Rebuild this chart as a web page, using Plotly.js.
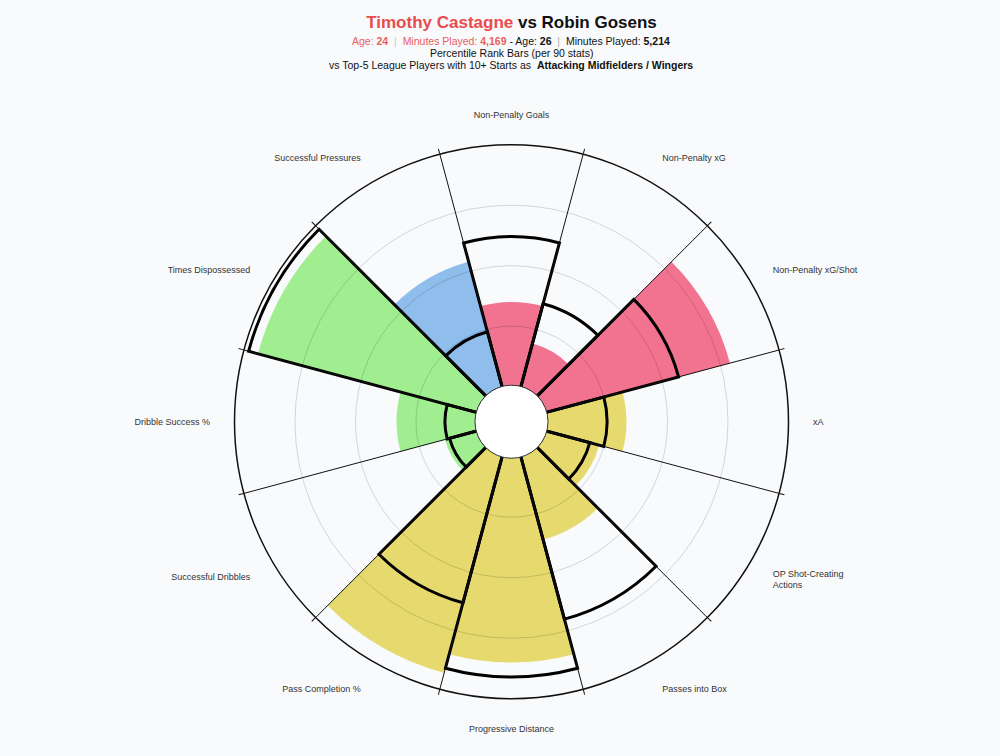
<!DOCTYPE html>
<html>
<head>
<meta charset="utf-8">
<script src="https://cdn.plot.ly/plotly-3.0.1.min.js"></script>
<style>html,body{margin:0;padding:0;background:#f9fafc;}</style>
</head>
<body>
<div id="chart" style="width:1000px;height:756px;"></div>
<script>
// ---- data ----
const categories = [
  "Non-Penalty Goals", "Non-Penalty xG", "Non-Penalty xG/Shot", "xA",
  "OP Shot-Creating<br>Actions", "Passes into Box", "Progressive Distance",
  "Pass Completion %", "Successful Dribbles", "Dribble Success %",
  "Times Dispossessed", "Successful Pressures"
];
const castagne = [35, 19, 79, 33, 23, 36, 85, 93, 14, 33, 94, 54];
const gosens   = [62, 36, 57, 25, 19, 70, 91, 63, 12, 13, 98, 24];
const groups   = ["att","att","att","pass","pass","pass","pass","pass","poss","poss","poss","def"];
const gridValues = [25, 50, 75];

// ---- style ----
const groupColor = {att: "#f2738f", pass: "#e6d96e", poss: "#a0ee90", def: "#8fbdec"};
const FONT = "Liberation Sans, Arial, Helvetica, sans-serif";
const cx = 0.5115, cyPx = 421.7, R = 277, W = 1000, H = 756;
const dom = {
  x: [cx - R / W, cx + R / W],
  y: [(H - cyPx - R) / H, (H - cyPx + R) / H]
};
const rMin = -14.5;        // inner hole radius in value units
const holeTop = 0.6;

const n = categories.length;
const boundaries = categories.map((c, i) => (i + 0.5) * 360 / n);

const traces = [
  {
    type: "barpolar", subplot: "polar",
    theta: categories, r: castagne,
    marker: {color: groups.map(g => groupColor[g]), line: {width: 0}},
    hoverinfo: "skip"
  },
  {
    type: "barpolar", subplot: "polar",
    theta: categories, r: gosens,
    marker: {color: "rgba(0,0,0,0)", line: {color: "#000", width: 3}},
    hoverinfo: "skip"
  },
  {
    type: "barpolar", subplot: "polar2",
    theta: [0], r: [holeTop - rMin], base: [rMin], width: [360],
    marker: {color: "#ffffff", line: {color: "#3a3a3a", width: 1}},
    hoverinfo: "skip"
  }
];

const layout = {
  width: W, height: H,
  paper_bgcolor: "#f9fafc",
  plot_bgcolor: "#f9fafc",
  margin: {l: 0, r: 0, t: 0, b: 0},
  showlegend: false,
  font: {family: FONT, color: "#222"},
  title: {
    text: '<b><span style="color:#e84c4c">Timothy Castagne</span> vs Robin Gosens</b>',
    font: {size: 17, color: "#111", family: FONT},
    x: cx, xanchor: "center", xref: "paper",
    y: 1 - 22 / H, yanchor: "middle", yref: "container"
  },
  annotations: [
    {
      text: '<span style="color:#e8605c">Age: <b>24</b></span><span style="color:#f0b4b4">\u00a0\u00a0|\u00a0\u00a0</span><span style="color:#e8605c">Minutes Played: <b>4,169</b></span> - Age: <b>26</b><span style="color:#b0b0b0">\u00a0\u00a0|\u00a0\u00a0</span>Minutes Played: <b>5,214</b>',
      x: cx, y: 1 - 41 / H, xref: "paper", yref: "paper",
      xanchor: "center", yanchor: "middle", showarrow: false,
      font: {size: 10.5, color: "#111", family: FONT}
    },
    {
      text: "Percentile Rank Bars (per 90 stats)",
      x: cx, y: 1 - 53 / H, xref: "paper", yref: "paper",
      xanchor: "center", yanchor: "middle", showarrow: false,
      font: {size: 10.5, color: "#111", family: FONT}
    },
    {
      text: "vs Top-5 League Players with 10+ Starts as  <b>Attacking Midfielders / Wingers</b>",
      x: cx, y: 1 - 65.5 / H, xref: "paper", yref: "paper",
      xanchor: "center", yanchor: "middle", showarrow: false,
      font: {size: 10.5, color: "#111", family: FONT}
    }
  ],
  polar: {
    domain: dom,
    bgcolor: "rgba(0,0,0,0)",
    hole: 0,
    barmode: "overlay",
    bargap: 0,
    radialaxis: {range: [rMin, 100], visible: false},
    angularaxis: {
      type: "category", direction: "clockwise", rotation: 90,
      showgrid: false, showline: true, linecolor: "#111", linewidth: 1.5,
      ticks: "outside", ticklen: 22, tickcolor: "rgba(0,0,0,0)",
      tickfont: {size: 9, color: "#333", family: FONT}
    }
  },
  polar2: {
    domain: dom,
    bgcolor: "rgba(0,0,0,0)",
    hole: 0,
    radialaxis: {
      range: [rMin, 100], tickvals: gridValues, showticklabels: false,
      ticks: "", showline: false, showgrid: true,
      gridcolor: "rgba(0,0,0,0.15)", gridwidth: 1
    },
    angularaxis: {
      type: "linear", thetaunit: "degrees", direction: "clockwise", rotation: 90,
      tickvals: boundaries, showticklabels: false,
      ticks: "outside", ticklen: 5, tickcolor: "#111", tickwidth: 1,
      showgrid: true, gridcolor: "#111", gridwidth: 1, showline: false
    }
  }
};

Plotly.newPlot("chart", traces, layout, {displayModeBar: false, staticPlot: true});
</script>
</body>
</html>
